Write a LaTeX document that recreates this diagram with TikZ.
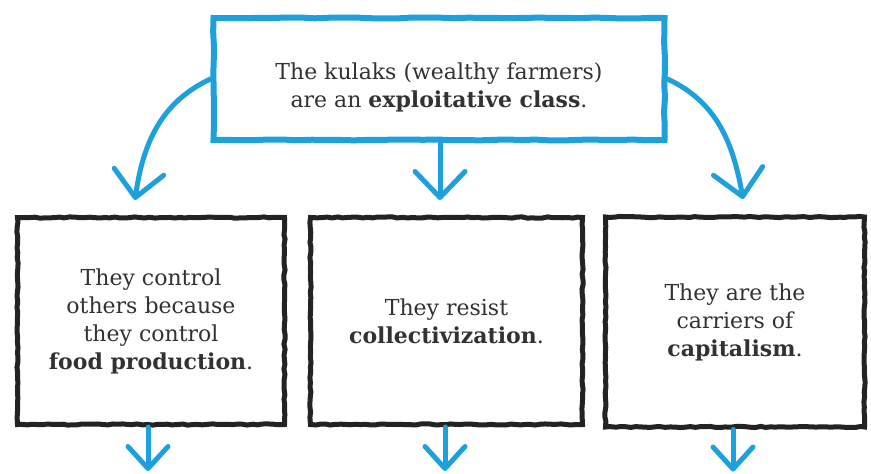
\documentclass[tikz,border=0pt]{standalone}
\usepackage{fontspec}
\setmainfont{DejaVu Serif}
\usepackage{tikz}
\usetikzlibrary{arrows.meta,decorations.pathmorphing,positioning,calc}
\usepackage{xcolor}
\definecolor{kulakblue}{RGB}{30,160,220}
\definecolor{chalk}{RGB}{35,35,35}
\definecolor{inkgray}{RGB}{50,50,50}

\begin{document}
\begin{tikzpicture}[
  x=1pt, y=-1pt,
  topbox/.style={rectangle, draw=kulakblue, line width=6pt, fill=white,
                 minimum width=451pt, minimum height=122pt,
                 font=\fontsize{22}{28}\selectfont, text=inkgray, align=center,
                 decorate, decoration={random steps, segment length=14pt, amplitude=0.5pt}},
  claim/.style={rectangle, draw=chalk, line width=5pt, fill=white,
                minimum height=207pt,
                font=\fontsize{22}{28}\selectfont, text=inkgray, align=center,
                decorate, decoration={random steps, segment length=5pt, amplitude=0.6pt}},
  arr/.style={-{Straight Barb[length=26pt, width=50pt, round]}, line width=5pt,
              draw=kulakblue, line cap=round},
  down/.style={-{Straight Barb[length=22pt, width=40pt, round]}, line width=5pt,
               draw=kulakblue, line cap=round},
]
\pgfmathsetseed{7}
\useasboundingbox (0,0) rectangle (871,474);

\node[topbox] (kulaks) at (439,79)
  {\rule{0pt}{34pt}The kulaks (wealthy farmers)\\are an \textbf{exploitative class}.};

\node[claim, minimum width=267pt] (food) at (151,321)
  {They control\\others because\\they control\\\textbf{food production}.};
\node[claim, minimum width=272pt] (resist) at (446.5,321)
  {They resist\\\textbf{collectivization}.};
\node[claim, minimum width=259pt, minimum height=210pt] (carriers) at (735,322)
  {They are the\\carriers of\\\textbf{capitalism}.};

% arrow tips above the three boxes
\coordinate (tipfood)     at (135,200);
\coordinate (tipresist)   at (440,200);
\coordinate (tipcarriers) at (743,199);

\draw[arr] (kulaks.west) to[out=205, in=82] (tipfood);
\draw[arr] (kulaks.south -| tipresist) -- (tipresist);
\draw[arr] (kulaks.east) to[out=-25, in=100] (tipcarriers);

% arrows leading on below
\draw[down] (food.south -| 148,0)     -- ++(0,44);
\draw[down] (resist.south -| 445,0)   -- ++(0,44);
\draw[down] (carriers.south -| 733,0) -- ++(0,42);
\end{tikzpicture}
\end{document}
